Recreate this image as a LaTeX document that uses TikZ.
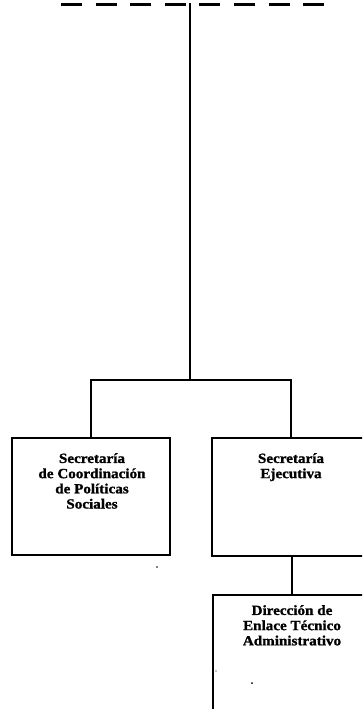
\documentclass[tikz,border=0pt]{standalone}
\usepackage{fontspec}
\setmainfont{Liberation Serif}[FakeStretch=1.08,FakeBold=1.2]
\begin{document}
\begin{tikzpicture}[x=1pt,y=-1pt,
  box/.style={draw=black, line width=2.1pt, minimum width=158pt, inner sep=0pt, fill=none},
  label/.style={font=\bfseries\fontsize{14}{15.2}\selectfont, align=center, anchor=north, inner sep=0pt},
  link/.style={draw=black, line width=2.1pt},
  speck/.style={fill=black}]
\useasboundingbox (0,0) rectangle (362,709);
\clip (0,0) rectangle (362,709);
% boxes
\node[box, minimum height=117pt] (lb) at (91,496.5) {};
\node[box, minimum height=118pt] (rb) at (291,497) {};
\node[box, minimum height=150pt] (db) at (292,670) {};
% texts
\node[label] (lt) at (92,453) {Secretaría\\de Coordinación\\de Políticas\\Sociales};
\node[label] (rt) at (291,453) {Secretaría\\Ejecutiva};
\node[label] (dt) at (292,605) {Dirección de\\Enlace Técnico\\Administrativo};
% connectors
\coordinate (dl) at (61,4.5);
\coordinate (dr) at (326,4.5);
\coordinate (top) at (190,3);
\coordinate (hub) at (190,380);
\coordinate (hl) at (91,380);
\coordinate (hr) at (291,380);
\draw[black, line width=3.8pt, dash pattern=on 21pt off 13.6pt] (dl) -- (dr);
\draw[link] (top) -- (hub);
\draw[link, line cap=rect] (hl) -- (hr);
\draw[link] (hl) -- (lb.north);
\draw[link] (hr) -- (rb.north);
\draw[link] (rb.south -| db.north) -- (db.north);
% scan specks
\fill[speck] (157,567) circle (0.8pt);
\fill[speck] (252,683) circle (1pt);
\fill[speck] (216,671) circle (0.6pt);
\end{tikzpicture}
\end{document}
